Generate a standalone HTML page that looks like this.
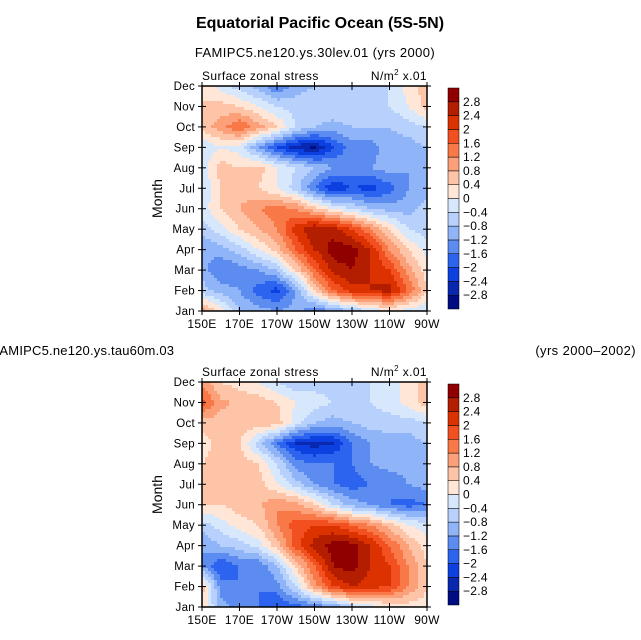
<!DOCTYPE html>
<html><head><meta charset="utf-8">
<style>
html,body{margin:0;padding:0;background:#fff;}
svg{display:block;font-family:"Liberation Sans",sans-serif;}
</style></head>
<body>
<svg id="chart" width="641" height="640" viewBox="0 0 641 640" xmlns="http://www.w3.org/2000/svg">
<text x="320" y="28" text-anchor="middle" font-size="16" font-weight="bold">Equatorial Pacific Ocean (5S-5N)</text>
<text x="315" y="57" text-anchor="middle" font-size="13" letter-spacing="0.4">FAMIPC5.ne120.ys.30lev.01 (yrs 2000)</text>
<text x="-8" y="355" font-size="13" letter-spacing="0.2">FAMIPC5.ne120.ys.tau60m.03</text>
<text x="636" y="355" text-anchor="end" font-size="13" letter-spacing="0.4">(yrs 2000–2002)</text>
</svg>
<script>
const months = ["Jan","Feb","Mar","Apr","May","Jun","Jul","Aug","Sep","Oct","Nov","Dec"];
const lonLabels = ["150E","170E","170W","150W","130W","110W","90W"];
const levels = [-2.8,-2.4,-2,-1.6,-1.2,-0.8,-0.4,0,0.4,0.8,1.2,1.6,2,2.4,2.8];
const levelLabels = ["-2.8","-2.4","-2","-1.6","-1.2","-0.8","-0.4","0","0.4","0.8","1.2","1.6","2","2.4","2.8"];
const colors = ["#000c82","#0828b0","#0c40e0","#2c64f0","#5c8cf0","#90b4f8","#b8d0fc","#d8e8fc","#ffe6d6","#fec4a8","#fca07a","#f87848","#f25020","#dc3200","#b41e00","#900000"];
// rows Jan..Dec, columns 150E..90W every 10 deg
const topData = [
[1.0,0.2,-0.8,-1.0,-1.2,-1.0,-1.6,-1.2,-0.8,-0.4,0.0,-0.2,-0.4],
[-0.6,-1.0,-1.2,-1.8,-2.2,-1.2,0.4,1.6,2.2,2.4,2.6,1.6,0.4],
[-1.0,-1.6,-1.4,-1.2,-0.8,0.4,1.6,2.6,2.8,2.4,2.0,1.0,0.2],
[-1.2,-1.0,-0.6,0.0,0.6,1.6,2.4,3.0,3.0,2.4,1.2,0.4,-0.2],
[-0.6,-0.2,0.4,0.8,1.2,2.2,2.8,2.6,2.0,1.2,0.4,-0.4,-0.6],
[-0.2,0.4,0.8,1.2,1.4,1.2,0.6,0.0,-0.4,-0.8,-1.0,-1.0,-0.6],
[-0.4,0.4,0.6,0.4,0.0,-0.6,-1.6,-2.4,-2.0,-2.2,-1.8,-1.2,-1.0],
[-0.2,0.6,0.4,0.6,0.0,-0.4,-0.8,-1.2,-1.4,-1.2,-1.0,-1.2,-0.8],
[-0.4,0.0,-0.2,-1.2,-2.0,-2.6,-2.9,-2.0,-1.4,-1.4,-1.0,-1.0,-0.8],
[0.6,1.0,1.6,1.0,0.4,-0.4,-0.8,-1.0,-0.8,-0.8,-0.8,-0.6,-0.4],
[0.4,0.6,0.4,0.0,-0.4,-0.6,-0.4,-0.4,-0.4,-0.6,-0.4,0.0,0.6],
[0.4,-0.2,-0.6,-1.0,-1.6,-1.0,-0.8,-0.8,-0.6,-0.4,-0.4,0.2,0.6]];
const bottomData = [
[0.4,-1.0,-1.4,-1.6,-2.0,-1.8,-1.6,-1.2,-0.6,-0.2,0.0,0.2,0.2],
[0.6,-1.4,-1.6,-1.6,-1.4,-0.4,1.0,2.0,2.4,2.2,2.0,1.2,0.4],
[-1.2,-2.0,-1.6,-1.6,-0.8,0.4,1.6,2.8,3.0,2.4,2.0,1.2,0.4],
[-1.2,-0.8,-0.6,-0.2,0.6,1.8,2.6,3.0,3.0,2.4,1.6,0.8,0.2],
[-0.6,-0.2,0.2,0.4,1.2,1.8,2.0,2.0,1.6,1.2,0.6,0.0,-0.2],
[0.4,0.4,0.6,0.7,1.2,1.0,0.4,-0.4,-1.0,-1.2,-1.6,-1.8,-1.6],
[0.4,0.6,0.7,0.6,0.0,-0.6,-1.2,-1.6,-1.8,-1.6,-1.6,-1.2,-1.0],
[0.4,0.6,0.7,0.4,-0.4,-1.4,-1.6,-1.6,-1.6,-1.2,-1.0,-1.0,-0.8],
[0.2,0.6,0.4,-0.6,-1.6,-2.4,-2.6,-2.4,-1.6,-1.2,-1.0,-1.0,-0.8],
[0.6,0.6,0.7,0.7,0.6,-0.2,-0.8,-1.0,-0.8,-0.6,-0.6,-0.6,-0.4],
[1.8,0.9,0.7,0.6,0.4,0.0,-0.2,-0.4,-0.4,-0.4,-0.2,0.2,0.6],
[1.0,0.4,0.2,0.0,-0.4,-0.8,-0.6,-0.6,-0.6,-0.4,-0.2,0.2,0.6]];

const NS="http://www.w3.org/2000/svg";
const svg=document.getElementById('chart');
function mk(tag,attrs,parent){const e=document.createElementNS(NS,tag);for(const k in attrs)e.setAttribute(k,attrs[k]);(parent||svg).appendChild(e);return e;}
function colorFor(v){v+=1e-6;let i=0;while(i<levels.length&&v>=levels[i])i++;return colors[i];}

function panel(data,top,name){
  const L=202,R=427,T=top,B=top+225;
  const nx=data[0].length, ny=data.length;
  const ys=r=>B-(B-T)*r/(ny-1);
  const g=mk('g',{});
  
  
  const cell=3;
  for(let py=T;py<B;py+=cell){
    for(let px=L;px<R;px+=cell){
      const fx=(px+cell/2-L)/(R-L)*(nx-1), fy=(B-(py+cell/2))/(B-T)*(ny-1);
      const c0=Math.min(Math.floor(fx),nx-2), r0=Math.min(Math.floor(fy),ny-2);
      const tx=fx-c0, ty=fy-r0;
      const v=(data[r0][c0]*(1-tx)+data[r0][c0+1]*tx)*(1-ty)+(data[r0+1][c0]*(1-tx)+data[r0+1][c0+1]*tx)*ty;
      const rc=mk('rect',{x:px,y:py,width:Math.min(cell,R-px)+0.3,height:Math.min(cell,B-py)+0.3,fill:colorFor(v)},g);
      
      
    }
  }
  const fr=mk('rect',{x:L,y:T,width:R-L,height:B-T,fill:'none',stroke:'#000','stroke-width':1.5});
  
  
  months.forEach((m,i)=>{
    const y=ys(i);
    mk('line',{x1:L-4,x2:L+4,y1:y,y2:y,stroke:'#000'});
    mk('line',{x1:R-4,x2:R+4,y1:y,y2:y,stroke:'#000'});
    const t=mk('text',{x:L-7,y:y+4,'text-anchor':'end','font-size':11.5,'letter-spacing':0.3});
    t.textContent=m;
    
    
  });
  lonLabels.forEach((l,i)=>{
    const x=L+(R-L)*i/(lonLabels.length-1);
    mk('line',{x1:x,x2:x,y1:B-4,y2:B+4,stroke:'#000'});
    mk('line',{x1:x,x2:x,y1:T-4,y2:T+4,stroke:'#000'});
    const t=mk('text',{x:x,y:B+17,'text-anchor':'middle','font-size':12,'letter-spacing':0.3});
    t.textContent=l;
    
    
  });
  const yt=mk('text',{x:0,y:0,'text-anchor':'middle','font-size':14,transform:`translate(162,${(T+B)/2}) rotate(-90)`});
  yt.textContent='Month';
  
  
  const lt=mk('text',{x:L,y:T-6,'font-size':12,'letter-spacing':0.4});
  lt.textContent='Surface zonal stress';
  
  
  const rt=mk('text',{x:R,y:T-6,'text-anchor':'end','font-size':12,'letter-spacing':0.4});
  rt.innerHTML='N/m<tspan font-size="8" dy="-5">2</tspan><tspan dy="5"> x.01</tspan>';
  
  
  const cbT=T+2, cbH=221, n=colors.length, bh=cbH/n;
  for(let i=0;i<n;i++){
    const r=mk('rect',{x:448,y:cbT+cbH-(i+1)*bh,width:11,height:bh,fill:colors[i],stroke:'#000','stroke-width':0.5});
    
    
  }
  levelLabels.forEach((s,i)=>{
    const y=cbT+cbH-(i+1)*bh;
    const t=mk('text',{x:463,y:y+4,'font-size':12,'letter-spacing':0.3});
    t.textContent=s.replace('-','\u2212');
    
    
  });
}
panel(topData,86,'top-panel');
panel(bottomData,382,'bottom-panel');
</script>
</body></html>
